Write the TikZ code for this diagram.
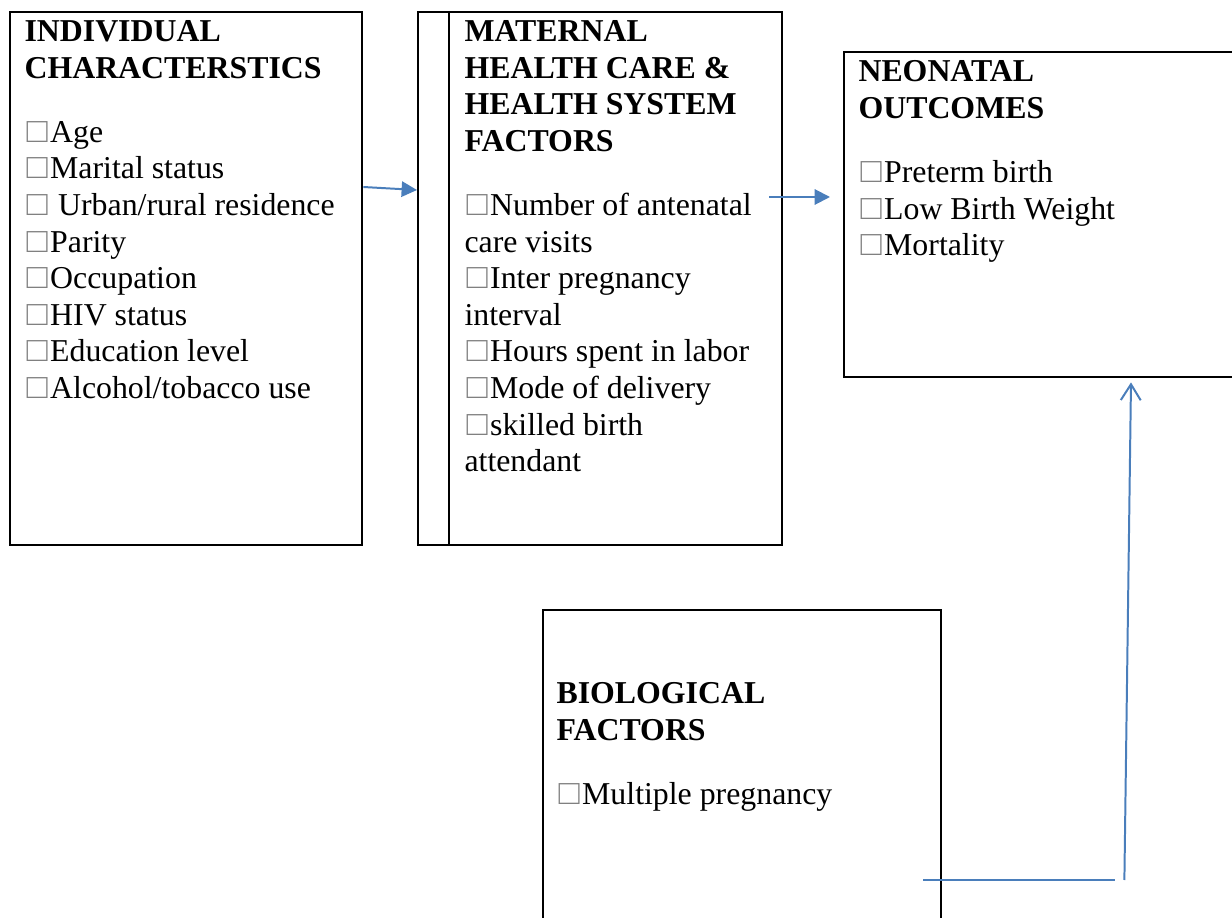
\documentclass[tikz,border=0pt]{standalone}
\usepackage{fontspec}
\setmainfont{Liberation Serif}
\usetikzlibrary{positioning,arrows.meta}
\newlength\pxu
\setlength\pxu{0.377pt}
\newcommand\glyphbox{\kern0.8pt{\color{gray}\scalebox{1.1}{□}}\kern0.9pt}
\definecolor{linkblue}{RGB}{74,126,187}
\tikzset{
framebox/.style={
  rectangle,
  draw=black,
  line width=0.9pt,
  inner sep=0pt,
  anchor=north west
  }
}
\tikzset{
  boxtext/.style={
    anchor=north west,
    align=left,
    inner sep=0pt,
    font=\fontsize{12pt}{13.8pt}\selectfont
  },
  link/.style={draw=linkblue, line width=0.75pt}
}

\begin{document}
\begin{tikzpicture}[x=\pxu,y=-\pxu]
\useasboundingbox (0,0) rectangle (1232,918);

\node[framebox, minimum width=352\pxu, minimum height=533\pxu]
at (9,11) (indiv) {};
\node[framebox, minimum width=364\pxu, minimum height=533\pxu]
at (417,11) (matern) {};
\node[framebox, minimum width=397\pxu, minimum height=325\pxu]
at (843,51) (neonat) {};
\node[framebox, minimum width=398\pxu, minimum height=321\pxu]
at (542,609) (biolog) {};

\draw[line width=0.9pt] ([shift={(32,0)}]matern.north west)
  -- ([shift={(32,0)}]matern.south west);

\node[boxtext] at ([shift={(15,9)}]indiv.north west) (indiv-txt)
{ 
  \textbf{INDIVIDUAL}\\
  \textbf{CHARACTERSTICS}\\[10.4pt]
  \glyphbox Age\\
  \glyphbox Marital status\\
  \glyphbox\ Urban/rural residence\\
  \glyphbox Parity\\
  \glyphbox Occupation\\
  \glyphbox HIV status\\
  \glyphbox Education level\\
  \glyphbox Alcohol/tobacco use
};
\node[boxtext] at ([shift={(47,9)}]matern.north west) (matern-txt)
{ 
  \textbf{MATERNAL}\\
  \textbf{HEALTH CARE \&}\\
  \textbf{HEALTH SYSTEM}\\
  \textbf{FACTORS}\\[10.4pt]
  \glyphbox Number of antenatal\\
  care visits\\
  \glyphbox Inter pregnancy\\
  interval\\
  \glyphbox Hours spent in labor\\
  \glyphbox Mode of delivery\\
  \glyphbox skilled birth\\
  attendant
};
\node[boxtext] at ([shift={(15,9)}]neonat.north west) (neonat-txt)
{ 
  \textbf{NEONATAL}\\
  \textbf{OUTCOMES}\\[10.4pt]
  \glyphbox Preterm birth\\
  \glyphbox Low Birth Weight\\
  \glyphbox Mortality
};
\node[boxtext] at ([shift={(14,73)}]biolog.north west) (biolog-txt)
{ 
  \textbf{BIOLOGICAL}\\
  \textbf{FACTORS}\\[10.4pt]
  \glyphbox Multiple pregnancy
};

\begin{scope}
\coordinate(start) at([shift={(0,176)}]indiv.north east);
\coordinate(end) at([shift={(0,179)}]matern.north west);
\draw[link,-{Triangle[length=5.8pt,width=5.8pt]}] (start) -- (end);
\end{scope}

\begin{scope}
\coordinate(start) at([shift={(-14,186)}]matern.north east);
\coordinate(end) at([shift={(-13,146)}]neonat.north west);
\draw[link,-{Triangle[length=5.8pt,width=5.8pt]}] (start) -- (end);
\end{scope}

\begin{scope}
\coordinate(start) at([shift={(-19,271)}]biolog.north east);
\coordinate(end) at([shift={(173,271)}]biolog.north east);
\draw[link] (start) -- (end);
\end{scope}

\begin{scope}
\coordinate(start) at([shift={(182,271)}]biolog.north east);
\coordinate(end) at([shift={(288,4)}]neonat.south west);
\draw[link,-{Straight Barb[length=6pt,width=7.5pt]}] (start) -- (end);
\end{scope}

\end{tikzpicture}
\end{document}
